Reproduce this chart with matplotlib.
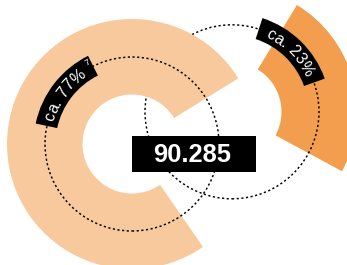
import numpy as np
import matplotlib
matplotlib.use("Agg")
import matplotlib.pyplot as plt
from matplotlib.patches import Wedge, Circle, Rectangle
from matplotlib.font_manager import FontProperties, findfont
from matplotlib import ft2font

# ---------------- data ----------------
categories = ["Anteil 1", "Anteil 2"]
shares = [75.8, 24.2]            # sweep of each ring part in percent of a full turn
share_labels = ["ca. 77%", "ca. 23%"]
footnote_mark = "7"
total_label = "90.285"

# ---------------- layout ----------------
W, H = 347, 265
fig = plt.figure(figsize=(W / 100, H / 100), dpi=100)
ax = fig.add_axes([0, 0, 1, 1])
ax.set_xlim(0, W)
ax.set_ylim(0, H)
ax.axis("off")


def P(x, y):
    return (x, H - y)


big_c = P(132, 144)
small_c = P(232, 111.8)
r_out, r_in = 125, 49.5
r_mid = 87

light = "#F8C99C"
dark = "#F39E4E"

big_start = 31.7
big_end = big_start + shares[0] * 3.6
small_start = -28.4
small_end = small_start + shares[1] * 3.6

# dark (exploded) segment
ax.add_patch(Wedge(small_c, r_out, small_start, small_end, width=r_out - r_in,
                   facecolor=dark, edgecolor="none", zorder=1))
# dotted guide circle of the small segment
ax.add_patch(Circle(small_c, r_mid, fill=False, edgecolor="black", lw=1.05,
                    linestyle=(0, (1.5, 1.7)), zorder=2))
# light big ring
ax.add_patch(Wedge(big_c, r_out, big_start, big_end, width=r_out - r_in,
                   facecolor=light, edgecolor="none", zorder=3))
ax.add_patch(Circle(big_c, r_mid, fill=False, edgecolor="black", lw=1.05,
                    linestyle=(0, (1.5, 1.7)), zorder=4))

# ---------------- curved labels ----------------
FONT = "Liberation Sans"
fpath = findfont(FontProperties(family=FONT))


def advances(s, size_pt):
    try:
        f = ft2font.FT2Font(fpath)
        f.set_size(size_pt, 72)
        out = []
        for ch in s:
            g = f.load_char(ord(ch))
            out.append(g.linearHoriAdvance / 65536.0)
        return out
    except Exception:
        return [0.55 * size_pt for _ in s]


def curved(center, text, theta_mid, r_base, size_pt, zorder):
    adv = [a * 100 / 72 for a in advances(text, size_pt)]
    L = sum(adv)
    s = -L / 2
    for ch, a in zip(text, adv):
        sc = s + a / 2
        th = theta_mid - np.degrees(sc / r_base)
        if ch != " ":
            x = center[0] + r_base * np.cos(np.radians(th))
            y = center[1] + r_base * np.sin(np.radians(th))
            ax.text(x, y, ch, rotation=th - 90, rotation_mode="anchor",
                    ha="center", va="baseline", fontsize=size_pt,
                    color="white", family=FONT, zorder=zorder)
        s += a
    return theta_mid - np.degrees((L / 2) / r_base)


band_w = 22
label_fs = 11.5
# big label band
ax.add_patch(Wedge(big_c, r_mid + 11.5, 116.5, 168, width=band_w,
                   facecolor="black", edgecolor="none", zorder=5))
end_th = curved(big_c, share_labels[0], 144.0, 81.5, label_fs, 6)
th = end_th - 5
ax.text(big_c[0] + 90 * np.cos(np.radians(th)), big_c[1] + 90 * np.sin(np.radians(th)),
        footnote_mark, rotation=th - 90, rotation_mode="anchor", ha="center",
        va="baseline", fontsize=6.5, color="white", family=FONT, zorder=6)

# small label band
ax.add_patch(Wedge(small_c, r_mid + 11.5, 19.7, 72, width=band_w,
                   facecolor="black", edgecolor="none", zorder=5))
curved(small_c, share_labels[1], 45.5, 81.5, label_fs, 6)

# ---------------- centre value ----------------
ax.add_patch(Rectangle(P(132, 172), 124, 36, facecolor="black", edgecolor="none", zorder=7))
ax.text(*P(192, 162.3), total_label, ha="center", va="baseline", fontsize=18.4,
        fontweight="bold", color="white", family=FONT, zorder=8)

fig.savefig("out.png", dpi=100)
